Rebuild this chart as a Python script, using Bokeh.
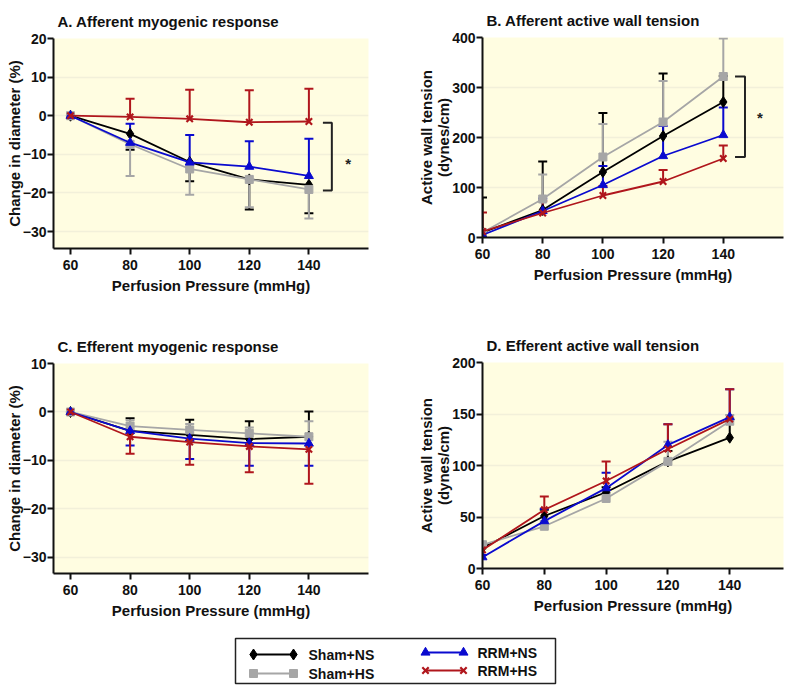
from bokeh.plotting import figure
from bokeh.layouts import column, row
from bokeh.models import Range1d, FixedTicker, Whisker, TeeHead, ColumnDataSource
from bokeh.embed import file_html
from bokeh.resources import INLINE
from bokeh.core.properties import value

# ---------------- data ----------------
pressure = [60, 80, 100, 120, 140]
x_ticks = [60, 80, 100, 120, 140]
series_names = ["Sham+NS", "Sham+HS", "RRM+NS", "RRM+HS"]

# A. Afferent myogenic response (% change in diameter)
a_sham_ns = [0, -4.7, -12.0, -16.5, -17.9]
a_sham_ns_err = [0, 4.1, 5.0, 7.8, 7.4]
a_sham_hs = [0, -7.4, -13.8, -16.5, -19.1]
a_sham_hs_err = [0, 8.2, 6.7, 7.2, 7.5]
a_rrm_ns = [0, -7.0, -12.1, -13.2, -15.6]
a_rrm_ns_err = [0, 4.9, 7.1, 6.6, 9.6]
a_rrm_hs = [0, -0.3, -0.8, -1.7, -1.5]
a_rrm_hs_err = [0, 4.7, 7.5, 8.3, 8.5]
a_yticks = [20, 10, 0, -10, -20, -30]

# B. Afferent active wall tension (dynes/cm)
b_sham_ns = [10, 55, 131, 203, 271]
b_sham_ns_err = [70, 97, 118, 125, 52]
b_sham_hs = [10, 77, 161, 231, 322]
b_sham_hs_err = [5, 49, 66, 82, 76]
b_rrm_ns = [5, 53, 105, 163, 205]
b_rrm_ns_err = [3, 25, 38, 60, 55]
b_rrm_hs = [12, 49, 84, 112, 158]
b_rrm_hs_err = [38, 24, 19, 23, 26]
b_yticks = [0, 100, 200, 300, 400]

# C. Efferent myogenic response (% change in diameter)
c_sham_ns = [0, -3.9, -4.7, -5.6, -5.1]
c_sham_ns_err = [0, 2.6, 3.1, 3.7, 5.2]
c_sham_hs = [0, -2.9, -3.7, -4.4, -5.1]
c_sham_hs_err = [0, 1.2, 1.2, 1.2, 3.2]
c_rrm_ns = [0, -3.9, -5.5, -6.4, -6.5]
c_rrm_ns_err = [0, 3.0, 4.2, 4.7, 4.6]
c_rrm_hs = [0, -5.1, -6.2, -7.1, -7.7]
c_rrm_hs_err = [0, 3.5, 4.7, 5.3, 7.1]
c_yticks = [10, 0, -10, -20, -30]

# D. Efferent active wall tension (dynes/cm)
d_sham_ns = [20, 51, 74, 104, 127]
d_sham_ns_err = [3, 6, 5, 10, 18]
d_sham_hs = [23, 41, 68, 104, 143]
d_sham_hs_err = [3, 5, 5, 19, 6]
d_rrm_ns = [11, 46, 78, 120, 147]
d_rrm_ns_err = [2, 12, 15, 20, 27]
d_rrm_hs = [18, 57, 85, 116, 145]
d_rrm_hs_err = [5, 13, 19, 24, 29]
d_yticks = [0, 50, 100, 150, 200]

# ---------------- style ----------------
FONT = "Liberation Sans"
COLORS = ["#000000", "#A6A6A6", "#0A0ACF", "#B0161C"]
MARKERS = ["diamond", "square", "triangle", "x"]
MSIZE = [11, 8, 9, 9]
BG = "#FFFDE1"
GRID = "#F2F0DA"


def make_panel(title, ylabel, ys, errs, dirs, y_range, yticks, x_range,
               width, height, borders, bracket=None, star=None):
    bl, br, bt, bb = borders
    p = figure(width=width, height=height, x_range=Range1d(*x_range),
               y_range=Range1d(*y_range), toolbar_location=None,
               output_backend="svg", min_border_left=bl, min_border_right=br,
               min_border_top=bt, min_border_bottom=bb)
    p.background_fill_color = BG
    p.border_fill_color = "white"
    p.outline_line_color = None
    p.title.text = title
    p.title.text_font = FONT
    p.title.text_font_size = "15px"
    p.title.text_font_style = "bold"
    p.title.text_color = "#111111"
    p.title.text_line_height = 1.0
    p.title.offset = 4
    p.title.standoff = 18

    p.xaxis.ticker = FixedTicker(ticks=x_ticks)
    p.yaxis.ticker = FixedTicker(ticks=yticks)
    p.xgrid.visible = False
    p.ygrid.ticker = FixedTicker(ticks=yticks)
    p.ygrid.grid_line_color = GRID
    p.ygrid.grid_line_width = 1.5
    for ax in (p.xaxis[0], p.yaxis[0]):
        ax.axis_line_width = 2
        ax.axis_line_color = "#111111"
        ax.major_tick_line_width = 2
        ax.major_tick_line_color = "#111111"
        ax.major_tick_out = 6
        ax.major_tick_in = 0
        ax.minor_tick_line_color = None
        ax.major_label_text_font = FONT
        ax.major_label_text_font_style = "bold"
        ax.major_label_text_font_size = "14px"
        ax.major_label_text_color = "#111111"
        ax.axis_label_text_font = FONT
        ax.axis_label_text_font_style = "bold"
        ax.axis_label_text_font_size = "15px"
        ax.axis_label_text_color = "#111111"
        ax.axis_label_text_line_height = 1.0
    p.xaxis.axis_label = "Perfusion Pressure (mmHg)"
    p.yaxis.axis_label = ylabel
    p.xaxis.major_label_standoff = 5
    p.xaxis.axis_label_standoff = 4
    p.yaxis.major_label_standoff = 1
    p.yaxis.axis_label_standoff = -3

    for i in range(4):
        y = ys[i]
        e = errs[i]
        if dirs[i] > 0:
            lower = list(y)
            upper = [a + b for a, b in zip(y, e)]
        else:
            lower = [a - b for a, b in zip(y, e)]
            upper = list(y)
        src = ColumnDataSource(dict(x=pressure, y=y, lower=lower, upper=upper))
        head = TeeHead(size=9, line_color=COLORS[i], line_width=2)
        w = Whisker(base="x", lower="lower", upper="upper", source=src,
                    line_color=COLORS[i], line_width=2,
                    upper_head=head if dirs[i] > 0 else None,
                    lower_head=None if dirs[i] > 0 else head)
        p.add_layout(w)
    for i in range(4):
        src = ColumnDataSource(dict(x=pressure, y=ys[i]))
        p.line("x", "y", source=src, line_color=COLORS[i], line_width=1.8)
        if MARKERS[i] == "x":
            p.scatter("x", "y", source=src, marker="x", size=MSIZE[i],
                      line_color=COLORS[i], line_width=2.2)
        else:
            p.scatter("x", "y", source=src, marker=MARKERS[i], size=MSIZE[i],
                      fill_color=COLORS[i], line_color=COLORS[i], line_width=1)

    if bracket is not None:
        bx, btick, y0, y1 = bracket
        p.line([btick, bx, bx, btick], [y0, y0, y1, y1], line_color="#222222",
               line_width=2)
    if star is not None:
        p.text([star[0]], [star[1]], text=["*"], text_align="center",
               text_baseline="middle", text_font=value(FONT),
               text_font_style="bold", text_font_size="15px", text_color="#222222")
    return p


up = [1, 1, 1, 1]
pA = make_panel("A. Afferent myogenic response", "Change in diameter (%)",
                [a_sham_ns, a_sham_hs, a_rrm_ns, a_rrm_hs],
                [a_sham_ns_err, a_sham_hs_err, a_rrm_ns_err, a_rrm_hs_err],
                [-1, -1, 1, 1], (-34.4, 20), a_yticks, (54.3, 160),
                400, 320, (53, 32, 38, 72),
                bracket=(147.7, 144.7, -1.8, -19.4), star=(153.2, -12.5))
pB = make_panel("B. Afferent active wall tension", "Active wall tension\n(dynes/cm)",
                [b_sham_ns, b_sham_hs, b_rrm_ns, b_rrm_hs],
                [b_sham_ns_err, b_sham_hs_err, b_rrm_ns_err, b_rrm_hs_err],
                up, (0, 400), b_yticks, (60, 160),
                400, 320, (82, 17, 36, 83),
                bracket=(147.2, 143.9, 322, 161), star=(152.2, 240))
pC = make_panel("C. Efferent myogenic response", "Change in diameter (%)",
                [c_sham_ns, c_sham_hs, c_rrm_ns, c_rrm_hs],
                [c_sham_ns_err, c_sham_hs_err, c_rrm_ns_err, c_rrm_hs_err],
                [1, 1, -1, -1], (-33.3, 10), c_yticks, (54.3, 160),
                400, 310, (53, 32, 43, 57))
pD = make_panel("D. Efferent active wall tension", "Active wall tension\n(dynes/cm)",
                [d_sham_ns, d_sham_hs, d_rrm_ns, d_rrm_hs],
                [d_sham_ns_err, d_sham_hs_err, d_rrm_ns_err, d_rrm_hs_err],
                up, (0, 200), d_yticks, (60, 157.4),
                400, 310, (82, 17, 42, 62))

# ---------------- legend ----------------
LW, LH = 800, 62
pL = figure(width=LW, height=LH, x_range=Range1d(0, LW), y_range=Range1d(LH, 0),
            toolbar_location=None, output_backend="svg", min_border=0)
pL.axis.visible = False
pL.grid.visible = False
pL.outline_line_color = None
pL.background_fill_color = "white"
pL.border_fill_color = "white"
pL.quad(left=235, right=555, top=8, bottom=53, fill_color=None,
        line_color="#222222", line_width=1.5)
leg_pos = [(253, 293, 24, 308), (253, 293, 43, 308), (425, 463, 22, 477), (425, 463, 40, 477)]
for i, (x0, x1, yy, tx) in enumerate(leg_pos):
    pL.line([x0, x1], [yy, yy], line_color=COLORS[i], line_width=1.8)
    if MARKERS[i] == "x":
        pL.scatter([x0, x1], [yy, yy], marker="x", size=MSIZE[i],
                   line_color=COLORS[i], line_width=2.2)
    else:
        pL.scatter([x0, x1], [yy, yy], marker=MARKERS[i], size=MSIZE[i],
                   fill_color=COLORS[i], line_color=COLORS[i])
    pL.text([tx], [yy], text=[series_names[i]], text_baseline="middle",
            text_font=value(FONT), text_font_style="bold",
            text_font_size="14px", text_color="#111111")

layout = column(row(column(pA, pC), column(pB, pD)), pL)
open("out.html", "w").write(file_html(layout, INLINE))
